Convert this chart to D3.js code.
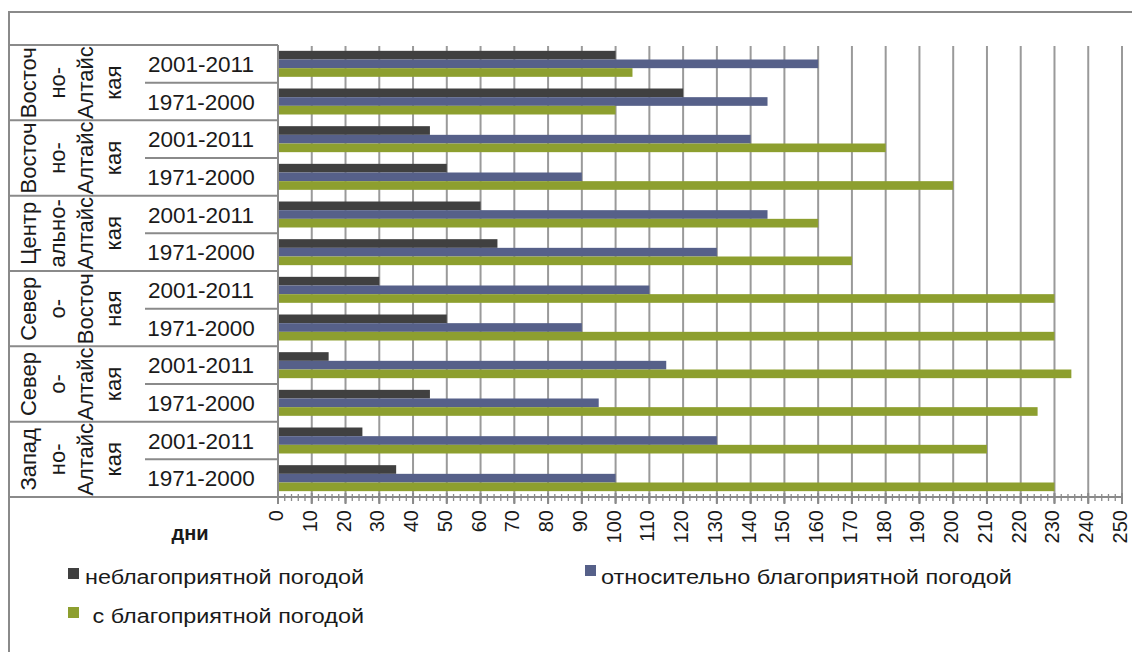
<!DOCTYPE html>
<html lang="ru">
<head>
<meta charset="utf-8">
<script src="https://cdn.jsdelivr.net/npm/d3@7"></script>
<style>
  html, body { margin: 0; padding: 0; background: #fff; }
  svg { display: block; font-family: "Liberation Sans", Arial, sans-serif; }
</style>
</head>
<body>
<svg id="chart" width="1132" height="652"></svg>
<script>
// Regions (outer category level), wrapped the way the labels break
const regionLines = [
  ["Восточ", "но-", "Алтайс", "кая"],
  ["Восточ", "но-", "Алтайс", "кая"],
  ["Центр", "ально-", "Алтайс", "кая"],
  ["Север", "о-", "Восточ", "ная"],
  ["Север", "о-", "Алтайс", "кая"],
  ["Запад", "но-", "Алтайс", "кая"]
];
// Periods (inner category level)
const periods = ["2001-2011", "1971-2000"];

// Series names
const seriesNames = [
  "неблагоприятной погодой",
  "относительно благоприятной погодой",
  " с благоприятной погодой"
];

// Number of days, one value per region × period row (top to bottom)
const unfavorable        = [100, 120, 45, 50, 60, 65, 30, 50, 15, 45, 25, 35];
const relativelyFavorable = [160, 145, 140, 90, 145, 130, 110, 90, 115, 95, 130, 100];
const favorable          = [105, 100, 180, 200, 160, 170, 230, 230, 235, 225, 210, 230];

// Axis ticks
const xTicks = d3.range(0, 251, 10);
const xMinorTicks = d3.range(0, 251, 2);
const axisTitle = "дни";

const seriesColors = ["#404040", "#566089", "#8d9f2f"];
const seriesValues = [unfavorable, relativelyFavorable, favorable];

const svg = d3.select("#chart");

// Plot geometry
const plot = { left: 278, right: 1122, top: 45, bottom: 497 };

const rows = [];
regionLines.forEach((r, gi) => periods.forEach((p, pi) => rows.push({ key: gi + "-" + pi, gi, pi, period: p })));

const x = d3.scaleLinear().domain([0, 250]).range([plot.left, plot.right]);
const y = d3.scaleBand().domain(rows.map(d => d.key)).range([plot.top, plot.bottom]).paddingInner(0.31).paddingOuter(0.155);
const yGroup = d3.scaleBand().domain(d3.range(regionLines.length)).range([plot.top, plot.bottom]);
const ySeries = d3.scaleBand().domain(d3.range(seriesNames.length)).range([0, y.bandwidth()]);

// Outer frame (top and left edges of the chart area)
svg.append("path")
  .attr("d", `M9,652 V12 H1132`)
  .attr("fill", "none").attr("stroke", "#8a8a8a").attr("stroke-width", 2);

// Vertical gridlines
svg.append("g").selectAll("line").data(xTicks.filter(t => t > 0)).join("line")
  .attr("x1", d => x(d)).attr("x2", d => x(d))
  .attr("y1", plot.top + 1).attr("y2", plot.bottom + 6)
  .attr("stroke", "#9a9a9a").attr("stroke-width", 2);

// Bars
const rowG = svg.append("g").selectAll("g").data(rows).join("g")
  .attr("transform", d => `translate(0,${y(d.key)})`);
rowG.selectAll("rect").data((d, i) => seriesValues.map((vals, si) => ({ si, v: vals[i] }))).join("rect")
  .attr("x", x(0))
  .attr("y", d => ySeries(d.si))
  .attr("width", d => x(d.v) - x(0))
  .attr("height", ySeries.bandwidth())
  .attr("fill", d => seriesColors[d.si]);

// Category table on the left
const table = svg.append("g").attr("stroke", "#8a8a8a").attr("stroke-width", 2);
// group separators across the whole table
table.selectAll("line.grp").data(d3.range(regionLines.length + 1)).join("line")
  .attr("class", "grp")
  .attr("x1", 9).attr("x2", plot.left)
  .attr("y1", d => d < regionLines.length ? yGroup(d) : plot.bottom)
  .attr("y2", d => d < regionLines.length ? yGroup(d) : plot.bottom);
// period separators inside each group
table.selectAll("line.per").data(d3.range(regionLines.length)).join("line")
  .attr("class", "per")
  .attr("x1", 145).attr("x2", plot.left)
  .attr("y1", d => yGroup(d) + yGroup.bandwidth() / 2)
  .attr("y2", d => yGroup(d) + yGroup.bandwidth() / 2);
// y axis line
table.append("line")
  .attr("x1", plot.left).attr("x2", plot.left)
  .attr("y1", plot.top).attr("y2", plot.bottom + 1);

// Period labels
svg.append("g").selectAll("text").data(rows).join("text")
  .attr("x", 201)
  .attr("y", d => yGroup(d.gi) + yGroup.bandwidth() / 4 * (d.pi * 2 + 1))
  .attr("dy", "0.36em")
  .attr("text-anchor", "middle")
  .attr("font-size", 22.5)
  .attr("fill", "#1a1a1a")
  .text(d => d.period);

// Region labels, rotated
const lineX = [28, 57, 85, 113];
const regionG = svg.append("g").selectAll("g").data(regionLines).join("g");
regionG.selectAll("text").data((d, gi) => d.map((t, li) => ({ t, li, gi }))).join("text")
  .attr("transform", d => `translate(${lineX[d.li]},${yGroup(d.gi) + yGroup.bandwidth() / 2}) rotate(-90)`)
  .attr("dy", "0.36em")
  .attr("text-anchor", "middle")
  .attr("font-size", 22)
  .attr("fill", "#1a1a1a")
  .text(d => d.t);

// X axis
const axisG = svg.append("g").attr("transform", `translate(0,${plot.bottom})`);
axisG.append("line").attr("x1", plot.left).attr("x2", plot.right)
  .attr("stroke", "#8a8a8a").attr("stroke-width", 2);
axisG.selectAll("line.minor").data(xMinorTicks).join("line")
  .attr("class", "minor")
  .attr("x1", d => x(d)).attr("x2", d => x(d))
  .attr("y1", -3).attr("y2", 4)
  .attr("stroke", "#8a8a8a").attr("stroke-width", 1.3);
axisG.selectAll("line.major").data(xTicks).join("line")
  .attr("class", "major")
  .attr("x1", d => x(d)).attr("x2", d => x(d))
  .attr("y1", -4).attr("y2", 7)
  .attr("stroke", "#8a8a8a").attr("stroke-width", 2);
axisG.selectAll("text").data(xTicks).join("text")
  .attr("transform", d => `translate(${x(d)},13) rotate(-90)`)
  .attr("dy", "0.25em")
  .attr("text-anchor", "end")
  .attr("font-size", 20)
  .attr("fill", "#1a1a1a")
  .text(d => d);

// Axis title
svg.append("text")
  .attr("x", 190).attr("y", 540)
  .attr("text-anchor", "middle")
  .attr("font-size", 20)
  .attr("font-weight", "bold")
  .attr("fill", "#1a1a1a")
  .text(axisTitle);

// Legend
const legendItems = [
  { si: 0, mx: 68, my: 568, tx: 85, ty: 584, len: 279 },
  { si: 1, mx: 585, my: 565, tx: 601, ty: 584, len: 411 },
  { si: 2, mx: 68, my: 607, tx: 86, ty: 623, len: 278 }
];
const legend = svg.append("g");
legend.selectAll("rect").data(legendItems).join("rect")
  .attr("x", d => d.mx).attr("y", d => d.my)
  .attr("width", 11).attr("height", 11)
  .attr("fill", d => seriesColors[d.si]);
legend.selectAll("text").data(legendItems).join("text")
  .attr("x", d => d.tx).attr("y", d => d.ty)
  .attr("font-size", 20)
  .attr("fill", "#1a1a1a")
  .attr("xml:space", "preserve")
  .style("white-space", "pre")
  .attr("textLength", d => d.len)
  .attr("lengthAdjust", "spacingAndGlyphs")
  .text(d => seriesNames[d.si]);
</script>
</body>
</html>
